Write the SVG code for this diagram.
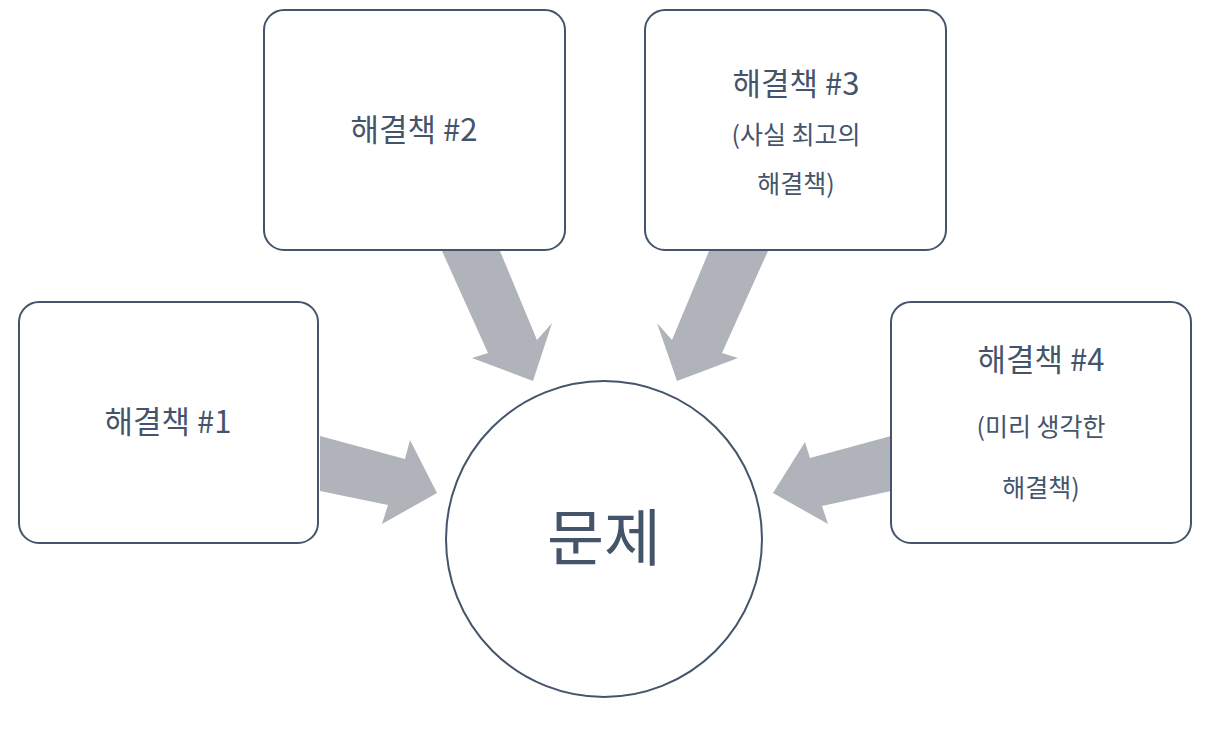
<svg xmlns="http://www.w3.org/2000/svg" width="1205" height="729" viewBox="0 0 1205 729">
<style>
.b{fill:#fff;stroke:#44546a;stroke-width:2}
.a{fill:#b0b3b9}
text{font-family:"Noto Sans CJK KR","Noto Sans",sans-serif;fill:#44546a;text-anchor:middle}
.l{font-size:31px}.s{font-size:25px}.c{font-size:62px}
</style>
<rect width="1205" height="729" fill="#fff"/>
<g id="connectors">
<polygon class="a" points="320,436 405,459 410,440 437,493 382,524 388,505 320,491"/>
<polygon class="a" points="442,251 500,251 537,340 552,323 533,381 472,358 488,353"/>
<polygon class="a" points="768,251 709,251 672,340 657,323 677,381 738,358 722,353"/>
<polygon class="a" points="891,436 810,458 805,442 773,493 828,524 822,506 891,491"/>
</g>
<g id="n1"><rect class="b" x="19" y="302" width="299" height="241" rx="20"/><text class="l" x="168" y="433">해결책 #1</text></g>
<g id="n2"><rect class="b" x="264" y="10" width="301" height="240" rx="20"/><text class="l" x="414" y="141">해결책 #2</text></g>
<g id="n3"><rect class="b" x="645" y="10" width="301" height="240" rx="20"/><text class="l" x="796" y="95">해결책 #3</text><text class="s" x="796" y="144">(사실 최고의</text><text class="s" x="796" y="193">해결책)</text></g>
<g id="n4"><rect class="b" x="891" y="302" width="300" height="241" rx="20"/><text class="l" x="1041" y="371">해결책 #4</text><text class="s" x="1041" y="436">(미리 생각한</text><text class="s" x="1041" y="497">해결책)</text></g>
<g id="c"><circle class="b" cx="604" cy="539" r="158"/><text class="c" x="604" y="561">문제</text></g>
</svg>
